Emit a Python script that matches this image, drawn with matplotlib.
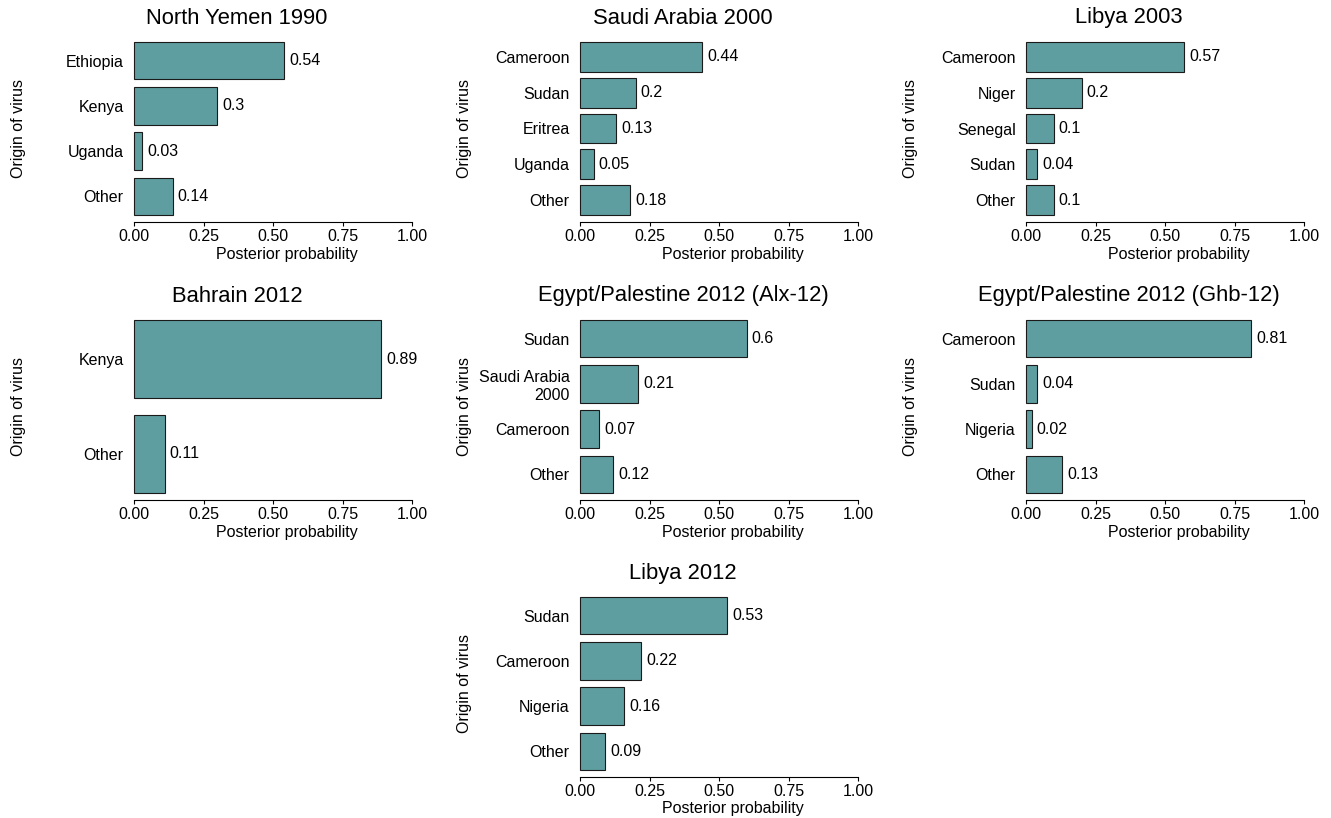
import matplotlib
matplotlib.use('Agg')
import matplotlib.pyplot as plt

plt.rcParams['font.family'] = ['Liberation Sans', 'DejaVu Sans']

# posterior probability of the origin of each virus
north_yemen_1990_src = ['Ethiopia', 'Kenya', 'Uganda', 'Other']
north_yemen_1990_p = [0.54, 0.3, 0.03, 0.14]

saudi_arabia_2000_src = ['Cameroon', 'Sudan', 'Eritrea', 'Uganda', 'Other']
saudi_arabia_2000_p = [0.44, 0.2, 0.13, 0.05, 0.18]

libya_2003_src = ['Cameroon', 'Niger', 'Senegal', 'Sudan', 'Other']
libya_2003_p = [0.57, 0.2, 0.1, 0.04, 0.1]

bahrain_2012_src = ['Kenya', 'Other']
bahrain_2012_p = [0.89, 0.11]

alx_12_src = ['Sudan', 'Saudi Arabia\n2000', 'Cameroon', 'Other']
alx_12_p = [0.6, 0.21, 0.07, 0.12]

ghb_12_src = ['Cameroon', 'Sudan', 'Nigeria', 'Other']
ghb_12_p = [0.81, 0.04, 0.02, 0.13]

libya_2012_src = ['Sudan', 'Cameroon', 'Nigeria', 'Other']
libya_2012_p = [0.53, 0.22, 0.16, 0.09]

panels = [
    ('North Yemen 1990', north_yemen_1990_src, north_yemen_1990_p, 0, 0),
    ('Saudi Arabia 2000', saudi_arabia_2000_src, saudi_arabia_2000_p, 0, 1),
    ('Libya 2003', libya_2003_src, libya_2003_p, 0, 2),
    ('Bahrain 2012', bahrain_2012_src, bahrain_2012_p, 1, 0),
    ('Egypt/Palestine 2012 (Alx-12)', alx_12_src, alx_12_p, 1, 1),
    ('Egypt/Palestine 2012 (Ghb-12)', ghb_12_src, ghb_12_p, 1, 2),
    ('Libya 2012', libya_2012_src, libya_2012_p, 2, 1),
]

W, H = 1331, 818
col_left = [134, 580, 1026]
row_top = [35, 313, 590]
ax_w, ax_h = 278, 187
bar_h = 0.83
fill_frac = 173 / 187  # share of the panel height taken by the bars

fig = plt.figure(figsize=(W / 100, H / 100), dpi=100)

for title, src, p, r, c in panels:
    ax = fig.add_axes([col_left[c] / W, 1 - (row_top[r] + ax_h) / H,
                       ax_w / W, ax_h / H])
    n = len(src)
    ypos = [n - 1 - i for i in range(n)]
    ax.barh(ypos, p, height=bar_h, color='#5F9EA0', edgecolor='#1a1a1a',
            linewidth=0.8, clip_on=False)
    for y, v in zip(ypos, p):
        ax.annotate(f'{v:g}', xy=(v, y), xytext=(3.5, 0),
                    textcoords='offset points', ha='left', va='center',
                    fontsize=11.5)

    block = n - 1 + bar_h
    pad = (block / fill_frac - block) / 2
    ax.set_ylim(-bar_h / 2 - pad, n - 1 + bar_h / 2 + pad)
    ax.set_xlim(0, 1)
    ax.set_yticks(ypos)
    ax.set_yticklabels(src, fontsize=11.5)
    ax.set_xticks([0, 0.25, 0.5, 0.75, 1.0])
    ax.set_xticklabels(['0.00', '0.25', '0.50', '0.75', '1.00'], fontsize=11.5)

    for side in ['top', 'right', 'left']:
        ax.spines[side].set_visible(False)
    ax.spines['bottom'].set_linewidth(0.8)
    ax.tick_params(axis='y', left=False, length=0, pad=7.5)
    ax.tick_params(axis='x', length=3, width=0.8, pad=2)

    ax.set_xlabel('Posterior probability', fontsize=11.5)
    ax.xaxis.set_label_coords(153 / ax_w, -32 / ax_h)
    ax.xaxis.label.set_va('center')
    ax.set_ylabel('Origin of virus', fontsize=11.5)
    ax.yaxis.set_label_coords(-115 / ax_w, 0.5)
    ax.yaxis.label.set_va('center')

    ax.text(103 / ax_w, 1 + 17 / ax_h, title, transform=ax.transAxes,
            ha='center', va='center', fontsize=15.8)

fig.savefig('out.png', dpi=100)
